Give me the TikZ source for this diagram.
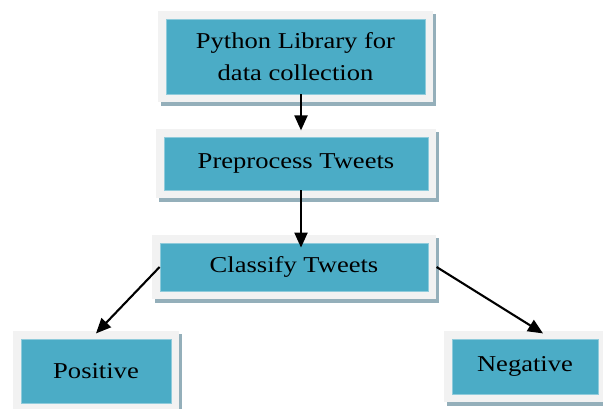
\documentclass[tikz,border=0pt]{standalone}
\usepackage{fontspec}
\setmainfont{Liberation Serif}[FakeStretch=1.17]
\usetikzlibrary{positioning,fit,backgrounds,shadows,arrows.meta}
\definecolor{boxteal}{HTML}{4BACC6}
\definecolor{boxedge}{HTML}{8FCBDB}
\definecolor{framegrey}{HTML}{F2F2F2}
\definecolor{shadowgrey}{HTML}{94AFBA}
\tikzset{stepbox/.style={draw=boxedge,line width=0.8pt,fill=boxteal,align=center,
        font=\fontsize{22.7}{31.7}\selectfont,inner sep=0pt},
    framebox/.style={fill=framegrey,inner sep=8pt,
        drop shadow={shadow xshift=3pt,shadow yshift=-3.5pt,fill=shadowgrey,opacity=1}},
    flow/.style={line width=2.1pt,-{Triangle[length=15pt,width=13pt]}}
}
\begin{document}
\begin{tikzpicture}[x=1pt,y=-1pt]

\clip (0,0) rectangle (603,409);
\useasboundingbox (0,0) rectangle (603,409);

\node (pyl) [stepbox,minimum width=259pt,minimum height=75pt] at (295.5,56.5) {Python Library for\\data collection};
\node (pre) [stepbox,minimum width=264pt,minimum height=53pt] at (296,163.5) {Preprocess Tweets};
\node (cls) [stepbox,minimum width=268pt,minimum height=48pt] at (294,267) {Classify Tweets};
\node (pos) [stepbox,minimum width=150pt,minimum height=64pt] at (96,371) {Positive};
\node (neg) [stepbox,minimum width=146pt,minimum height=55pt] at (525,366.5) {Negative};

\begin{scope}[on background layer]
\node (pylf) [framebox,fit=(pyl)] {};
\node (pref) [framebox,fit=(pre)] {};
\node (clsf) [framebox,fit=(cls)] {};
\node (posf) [framebox,fit=(pos)] {};
\node (negf) [framebox,fit=(neg)] {};
\end{scope}

\draw [flow] ([xshift=5.5pt]pyl.south) -- ([xshift=5pt,yshift=-2pt]pref.north);
\draw [flow] ([xshift=5pt]pre.south) -- ([xshift=7pt,yshift=-5pt]cls.north);
\draw [flow] (cls.west) -- ([yshift=-3pt]posf.north);
\draw [flow] (clsf.east) -- ([xshift=18pt,yshift=-3pt]negf.north);

\end{tikzpicture}
\end{document}
